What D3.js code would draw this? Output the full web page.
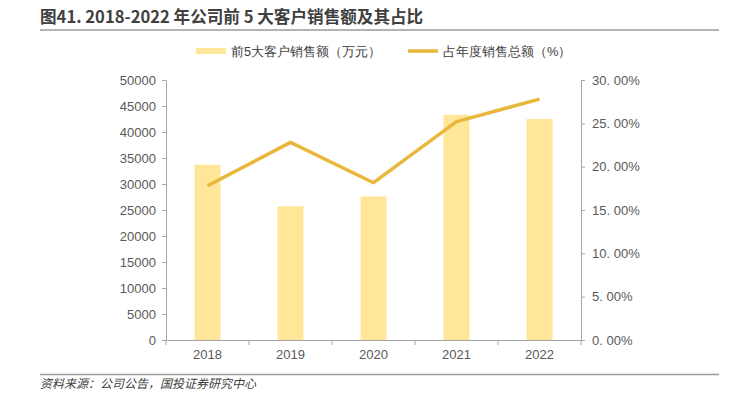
<!DOCTYPE html>
<meta charset="utf-8">
<script src="https://cdn.jsdelivr.net/npm/d3@7"></script>
<style>
  body { margin: 0; background: #fff; }
  text { font-family: "Liberation Sans", Arial, sans-serif; }
  .cn { font-family: "Noto Sans CJK SC", sans-serif; }
</style>
<body>
<div id="draw"></div>
</body>
<script>

  var years = ["2018", "2019", "2020", "2021", "2022"];
  var sales = [33700, 25700, 27600, 43300, 42500];     // 前5大客户销售额（万元）
  var share = [17.8, 22.8, 18.15, 25.2, 27.8];          // 占年度销售总额（%）
  var leftTicks = [0, 5000, 10000, 15000, 20000, 25000, 30000, 35000, 40000, 45000, 50000];
  var rightTicks = [0, 5, 10, 15, 20, 25, 30];

  var width = 739;
  var height = 397;
  var plot = {left: 166, right: 581, top: 80, bottom: 340};
  var barColor = "#FFE699";
  var lineColor = "#E9B73B";
  var axisColor = "#A6A6A6";
  var labelColor = "#595959";

  var svg = d3.select("#draw")
    .append("svg")
    .attr("width", width)
    .attr("height", height);

  // title + rules
  svg.append("text")
    .attr("class", "cn")
    .attr("x", 40).attr("y", 23)
    .attr("font-size", 16.6).attr("font-weight", "bold")
    .attr("fill", "#404040")
    .text("图41. 2018-2022 年公司前 5 大客户销售额及其占比");

  svg.append("line")
    .attr("x1", 40).attr("x2", 719).attr("y1", 30).attr("y2", 30)
    .attr("stroke", "#9a9a9a").attr("stroke-width", 1.5);

  svg.append("line")
    .attr("x1", 40).attr("x2", 719).attr("y1", 374.5).attr("y2", 374.5)
    .attr("stroke", "#9a9a9a").attr("stroke-width", 1.5);

  svg.append("text")
    .attr("class", "cn")
    .attr("x", 40).attr("y", 388)
    .attr("font-size", 12).attr("font-style", "italic")
    .attr("fill", "#404040")
    .text("资料来源：公司公告，国投证券研究中心");

  // scales
  var x = d3.scaleBand().domain(years).range([plot.left, plot.right]);
  var yL = d3.scaleLinear().domain([0, 50000]).range([plot.bottom, plot.top]);
  var yR = d3.scaleLinear().domain([0, 30]).range([plot.bottom, plot.top]);
  var barW = 26;

  // bars
  svg.append("g").selectAll("rect")
    .data(years)
    .enter().append("rect")
    .attr("x", function(d){ return x(d) + x.bandwidth()/2 - barW/2; })
    .attr("width", barW)
    .attr("y", function(d, i){ return yL(sales[i]); })
    .attr("height", function(d, i){ return plot.bottom - yL(sales[i]); })
    .attr("fill", barColor);

  // line
  var line = d3.line()
    .x(function(d, i){ return x(years[i]) + x.bandwidth()/2; })
    .y(function(d){ return yR(d); });

  svg.append("path")
    .datum(share)
    .attr("d", line)
    .attr("fill", "none")
    .attr("stroke", lineColor)
    .attr("stroke-width", 3.5)
    .attr("stroke-linejoin", "round");

  // axes
  function styleAxis(g) {
    g.select(".domain").attr("stroke", axisColor);
    g.selectAll(".tick line").attr("stroke", axisColor);
    g.selectAll(".tick text").attr("fill", labelColor).attr("font-size", 13);
  }

  svg.append("g")
    .attr("transform", "translate(" + plot.left + ",0)")
    .call(d3.axisLeft(yL).tickValues(leftTicks).tickSize(4).tickPadding(6).tickSizeOuter(0).tickFormat(d3.format("d")))
    .call(styleAxis);

  svg.append("g")
    .attr("transform", "translate(" + plot.right + ",0)")
    .call(d3.axisRight(yR).tickValues(rightTicks).tickSize(4).tickPadding(7).tickSizeOuter(0)
      .tickFormat(function(d){ return d3.format(".2f")(d).replace(".", ". ") + "%"; }))
    .call(styleAxis);

  var xAxis = svg.append("g")
    .attr("transform", "translate(0," + plot.bottom + ")")
    .call(d3.axisBottom(x).tickSize(0).tickPadding(10))
    .call(styleAxis);

  // category boundary ticks
  var bounds = years.map(function(d){ return x(d); }).concat([plot.right]);
  xAxis.selectAll(".bound")
    .data(bounds)
    .enter().append("line")
    .attr("x1", function(d){ return d; }).attr("x2", function(d){ return d; })
    .attr("y1", 0).attr("y2", 5)
    .attr("stroke", axisColor);

  // legend
  var legend = svg.append("g").attr("class", "cn").attr("font-size", 12.8).attr("fill", "#404040");
  legend.append("rect").attr("x", 196).attr("y", 48).attr("width", 30).attr("height", 6).attr("fill", barColor);
  legend.append("text").attr("x", 231).attr("y", 56).text("前5大客户销售额（万元）");
  legend.append("line").attr("x1", 408).attr("x2", 438).attr("y1", 51).attr("y2", 51)
    .attr("stroke", lineColor).attr("stroke-width", 3.5);
  legend.append("text").attr("x", 443).attr("y", 56).text("占年度销售总额（%）");

</script>
